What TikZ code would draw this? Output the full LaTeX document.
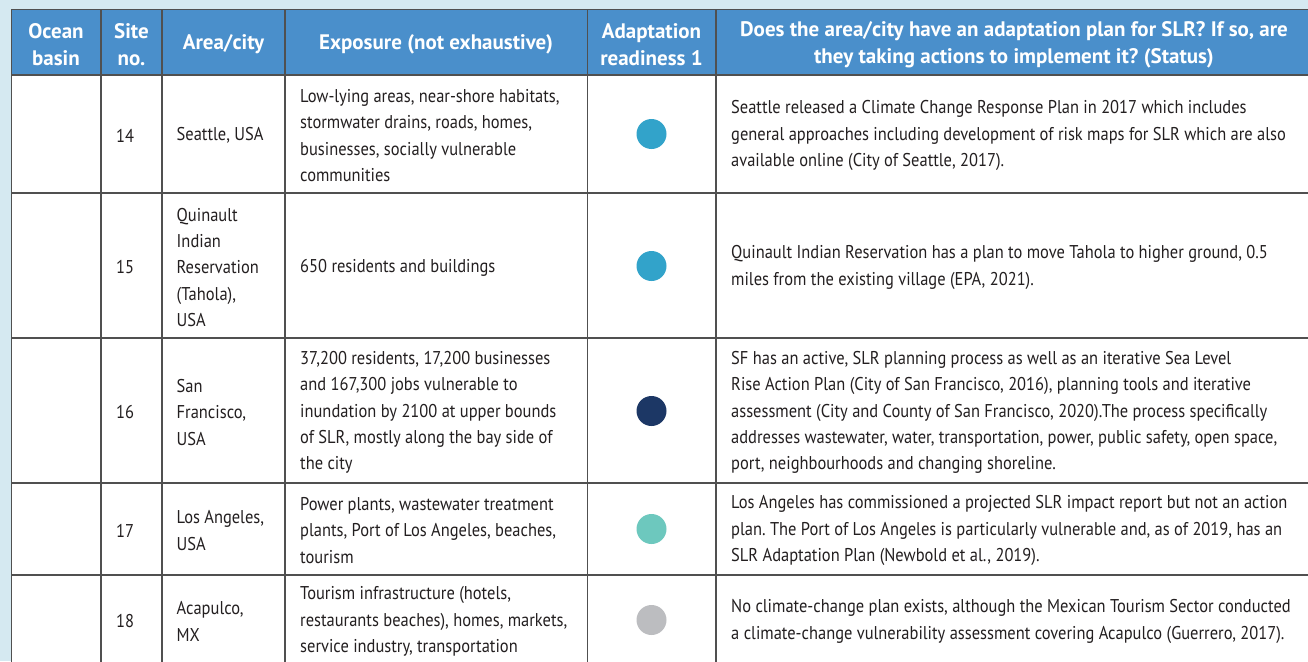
\documentclass[tikz,border=0pt]{standalone}
\usepackage{fontspec}
\setmainfont[FakeStretch=0.89]{PT Sans}
\newfontfamily\headfont{PT Sans}
\definecolor{pagebg}{HTML}{D5E9F1}
\definecolor{headblue}{HTML}{4A8FCB}
\definecolor{rulegray}{HTML}{505050}
\definecolor{ink}{HTML}{231F20}
\definecolor{midblue}{HTML}{32A3CA}
\definecolor{navy}{HTML}{1C3765}
\definecolor{teal}{HTML}{6DC8BE}
\definecolor{lightgray}{HTML}{BCBDC0}
\frenchspacing

\begin{document}
\begin{tikzpicture}[x=1pt,y=-1pt]
\tikzstyle{head}=[text=white,font=\headfont\bfseries\fontsize{21}{27}\selectfont,align=center,inner sep=0pt]
\tikzstyle{cell}=[anchor=west,align=left,text=ink,font=\fontsize{18.5}{26.2}\selectfont,inner sep=0pt]
\tikzstyle{dot}=[circle,fill=#1,minimum size=30pt,inner sep=0pt]
\tikzstyle{rule}=[rulegray,line width=1.3pt]
\useasboundingbox (0,0) rectangle (1308,661);
\fill[pagebg] (0,0) rectangle (1308,661);
\fill[white] (11.5,9.5) rectangle (1320,670);
\fill[headblue] (11.5,9.5) rectangle (1320,75);

% table rules
\foreach \x in {11.5,101,162,285,587.5,716}
  \draw[rule] (\x,9.5) -- (\x,670);
\foreach \y in {9.5,75,193,338,483,575}
  \draw[rule] (11.5,\y) -- (1320,\y);

% header
\node[head](hbasin) at (56,44.5) {Ocean\\basin};
\node[head](hsite) at (131.5,44.5) {Site\\no.};
\node[head](harea) at (223.5,44.5) {Area/city};
\node[head](hexp) at (436,44.5) {Exposure (not exhaustive)};
\node[head](hready) at (651.5,44.5) {Adaptation\\readiness 1};
\node[head](hplan) at (1014,44.5) {Does the area/city have an adaptation plan for SLR? If so, are\\they taking actions to implement it? (Status)};

% site 14
\node[cell](s14) at (116,135.5) {14};
\node[cell](a14) at (176.5,135.5) {Seattle, USA};
\node[cell](e14) at (300,135.5) {Low-lying areas, near-shore habitats,\\stormwater drains, roads, homes,\\businesses, socially vulnerable\\communities};
\node[dot=midblue](r14) at (651.5,134) {};
\node[cell](p14) at (731,135.5) {Seattle released a Climate Change Response Plan in 2017 which includes\\general approaches including development of risk maps for SLR which are also\\available online (City of Seattle, 2017).};

% site 15
\node[cell](s15) at (116,267.5) {15};
\node[cell](a15) at (176.5,267.5) {Quinault\\Indian\\Reservation\\(Tahola),\\USA};
\node[cell](e15) at (300,267.5) {650 residents and buildings};
\node[dot=midblue](r15) at (651.5,266) {};
\node[cell](p15) at (731,267.5) {Quinault Indian Reservation has a plan to move Tahola to higher ground, 0.5\\miles from the existing village (EPA, 2021).};

% site 16
\node[cell](s16) at (116,412.5) {16};
\node[cell](a16) at (176.5,412.5) {San\\Francisco,\\USA};
\node[cell](e16) at (300,412.5) {37,200 residents, 17,200 businesses\\and 167,300 jobs vulnerable to\\inundation by 2100 at upper bounds\\of SLR, mostly along the bay side of\\the city};
\node[dot=navy](r16) at (651.5,411) {};
\node[cell](p16) at (731,412.5) {SF has an active, SLR planning process as well as an iterative Sea Level\\Rise Action Plan (City of San Francisco, 2016), planning tools and iterative\\assessment (City and County of San Francisco, 2020).The process specifically\\addresses wastewater, water, transportation, power, public safety, open space,\\port, neighbourhoods and changing shoreline.};

% site 17
\node[cell](s17) at (116,530.5) {17};
\node[cell](a17) at (176.5,530.5) {Los Angeles,\\USA};
\node[cell](e17) at (300,530.5) {Power plants, wastewater treatment\\plants, Port of Los Angeles, beaches,\\tourism};
\node[dot=teal](r17) at (651.5,529) {};
\node[cell](p17) at (731,530.5) {Los Angeles has commissioned a projected SLR impact report but not an action\\plan. The Port of Los Angeles is particularly vulnerable and, as of 2019, has an\\SLR Adaptation Plan (Newbold et al., 2019).};

% site 18
\node[cell](s18) at (116,621.5) {18};
\node[cell](a18) at (176.5,621.5) {Acapulco,\\MX};
\node[cell](e18) at (300,621.5) {Tourism infrastructure (hotels,\\restaurants beaches), homes, markets,\\service industry, transportation};
\node[dot=lightgray](r18) at (651.5,620) {};
\node[cell](p18) at (731,621.5) {No climate-change plan exists, although the Mexican Tourism Sector conducted\\a climate-change vulnerability assessment covering Acapulco (Guerrero, 2017).};
\end{tikzpicture}
\end{document}
